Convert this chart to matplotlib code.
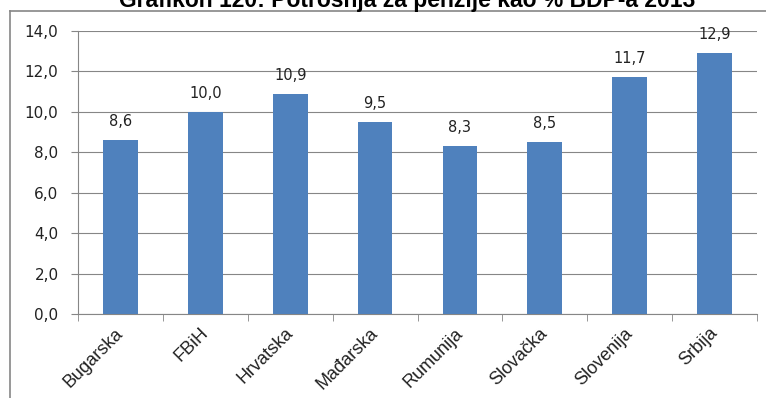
import numpy as np
import matplotlib
matplotlib.use("Agg")
import matplotlib.pyplot as plt
from matplotlib.lines import Line2D

countries = ["Bugarska", "FBiH", "Hrvatska", "Mađarska", "Rumunija",
             "Slovačka", "Slovenija", "Srbija"]
values = [8.6, 10.0, 10.9, 9.5, 8.3, 8.5, 11.7, 12.9]
yticks = [0, 2, 4, 6, 8, 10, 12, 14]

grey = "#868686"
bar_col = "#4F81BD"

fig = plt.figure(figsize=(7.66, 3.98), dpi=100)
ax = fig.add_axes([78 / 766, 1 - 314 / 398, 679 / 766, 283 / 398])

x = np.arange(len(countries))
ax.bar(x, values, width=0.41, color=bar_col, zorder=3)

for xi, v in zip(x, values):
    ax.annotate(f"{v:.1f}".replace(".", ","), (xi, v), xytext=(0, 8),
                textcoords="offset points", ha="center", va="bottom",
                fontsize=10.5, family="DejaVu Sans", color="#222222")

ax.set_xlim(-0.5, len(countries) - 0.5)
ax.set_ylim(0, 14)
ax.set_yticks(yticks)
ax.set_yticklabels([f"{t:.1f}".replace(".", ",") for t in yticks],
                   fontsize=11, family="DejaVu Sans", color="#222222")
ax.yaxis.grid(True, color=grey, linewidth=0.8, zorder=0)
ax.tick_params(axis="y", length=5, color=grey, pad=9)

ax.set_xticks(x)
ax.set_xticklabels(countries, rotation=45, ha="right", va="center",
                   rotation_mode="anchor",
                   fontsize=13, family="Liberation Sans", color="#222222")
ax.set_xticks(np.arange(-0.5, len(countries)), minor=True)
ax.tick_params(axis="x", which="major", length=0, pad=12)
ax.tick_params(axis="x", which="minor", length=5, color=grey)

for s in ["top", "right"]:
    ax.spines[s].set_visible(False)
for s in ["left", "bottom"]:
    ax.spines[s].set_color(grey)
    ax.spines[s].set_linewidth(0.8)

# chart border (top and left visible)
fig.add_artist(Line2D([10 / 766, 1.0], [1 - 10.5 / 398] * 2, color=grey,
                      linewidth=1.2, transform=fig.transFigure))
fig.add_artist(Line2D([10 / 766] * 2, [0, 1 - 10.5 / 398], color=grey,
                      linewidth=1.2, transform=fig.transFigure))

fig.text(407 / 766, 1 - 7 / 398, "Grafikon 120: Potrošnja za penzije kao % BDP-a 2013",
         ha="center", va="baseline", fontsize=16.5, fontweight="bold",
         family="Liberation Sans")

fig.savefig("out.png", dpi=100)
